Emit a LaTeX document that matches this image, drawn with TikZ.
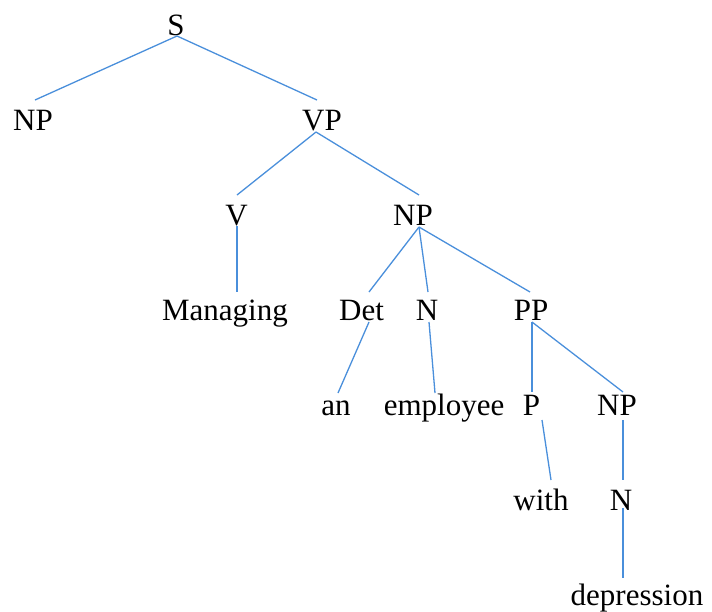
\documentclass[tikz,border=0pt]{standalone}
\usepackage{fontspec}
\setmainfont{Liberation Serif}
\definecolor{edgeblue}{HTML}{4A8FDB}
\begin{document}
\begin{tikzpicture}[x=1pt,y=-1pt,
  lbl/.style={anchor=base,inner sep=0pt,font=\fontsize{31}{37}\selectfont},
  edge/.style={draw=edgeblue,line width=1.3pt}]
\useasboundingbox (0,0) rectangle (712,611);
% labels, placed on their baselines
\node[lbl] (s)    at (176,35)  {S};
\node[lbl] (np1)  at (33,130)  {NP};
\node[lbl] (vp)   at (322,130) {VP};
\node[lbl] (v)    at (236.5,225) {V};
\node[lbl] (np2)  at (413,225) {NP};
\node[lbl] (man)  at (225,320) {Managing};
\node[lbl] (det)  at (361.5,320) {Det};
\node[lbl] (n1)   at (427,320) {N};
\node[lbl] (pp)   at (531,320) {PP};
\node[lbl] (an)   at (336,415) {an};
\node[lbl] (emp)  at (444,415) {employee};
\node[lbl] (p)    at (531.5,415) {P};
\node[lbl] (np3)  at (617,415) {NP};
\node[lbl] (with) at (541,510) {with};
\node[lbl] (n2)   at (621,510) {N};
\node[lbl] (dep)  at (637,605) {depression};
% branches: from just under a parent's baseline to just above a child's cap line
\draw[edge] ([xshift=1pt,yshift=-1pt]s.base) -- ([xshift=2pt,yshift=30pt]np1.base);
\draw[edge] ([xshift=1pt,yshift=-1pt]s.base) -- ([xshift=-5pt,yshift=30pt]vp.base);
\draw[edge] ([xshift=-6pt,yshift=-2pt]vp.base) -- ([xshift=0.5pt,yshift=30pt]v.base);
\draw[edge] ([xshift=-6pt,yshift=-2pt]vp.base) -- ([xshift=6pt,yshift=30pt]np2.base);
\draw[edge] ([xshift=0.5pt,yshift=-1pt]v.base) -- ([xshift=12pt,yshift=28pt]man.base);
\draw[edge] ([xshift=6pt,yshift=-2pt]np2.base) -- ([xshift=7.5pt,yshift=28pt]det.base);
\draw[edge] ([xshift=6pt,yshift=-2pt]np2.base) -- ([xshift=1pt,yshift=28pt]n1.base);
\draw[edge] ([xshift=6pt,yshift=-2pt]np2.base) -- ([xshift=-1pt,yshift=28pt]pp.base);
\draw[edge] ([xshift=7.5pt,yshift=-2pt]det.base) -- ([xshift=2pt,yshift=22pt]an.base);
\draw[edge] ([xshift=2pt,yshift=-2pt]n1.base) -- ([xshift=-9pt,yshift=22pt]emp.base);
\draw[edge] ([xshift=1pt,yshift=-2pt]pp.base) -- ([xshift=0.5pt,yshift=23pt]p.base);
\draw[edge] ([xshift=1pt,yshift=-2pt]pp.base) -- ([xshift=6pt,yshift=23pt]np3.base);
\draw[edge] ([xshift=10.5pt,yshift=-5pt]p.base) -- ([xshift=10pt,yshift=30pt]with.base);
\draw[edge] ([xshift=6pt,yshift=-5pt]np3.base) -- ([xshift=2pt,yshift=30pt]n2.base);
\draw[edge] ([xshift=2pt,yshift=2pt]n2.base) -- ([xshift=-14pt,yshift=27pt]dep.base);
\end{tikzpicture}
\end{document}
